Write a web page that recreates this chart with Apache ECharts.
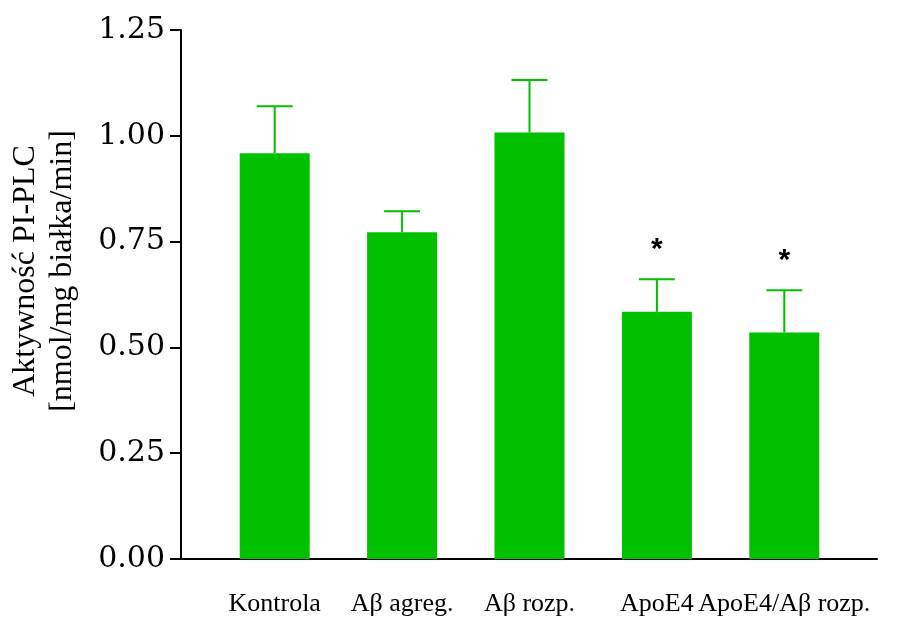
<!DOCTYPE html>
<html>
<head>
<meta charset="utf-8">
<script src="https://cdn.jsdelivr.net/npm/echarts@6/dist/echarts.min.js"></script>
<style>
  html, body { margin: 0; padding: 0; background: #fff; }
  #chart { width: 908px; height: 621px; }
</style>
</head>
<body>
<div id="chart"></div>
<script>
// Groups, mean PI-PLC activity and upper error (mean + SEM)
const categories = ['Kontrola', 'Aβ agreg.', 'Aβ rozp.', 'ApoE4', 'ApoE4/Aβ rozp.'];
const means = [0.959, 0.772, 1.008, 0.584, 0.535];
const upper = [1.070, 0.822, 1.132, 0.661, 0.635];
const significance = ['', '', '', '*', '*'];
const yTicks = [0, 0.25, 0.5, 0.75, 1.0, 1.25];

const GREEN = '#00c000';
const serif = '"Liberation Serif", "Times New Roman", serif';

const chart = echarts.init(document.getElementById('chart'), null, { renderer: 'canvas' });

const errorData = categories.map((c, i) => [i, means[i], upper[i], significance[i]]);

chart.setOption({
  animation: false,
  backgroundColor: '#ffffff',
  grid: [
    // bars and category labels
    { left: 211, right: 60, top: 30, bottom: 62 },
    // full-width frame carrying the y axis and the baseline
    { left: 181, right: 31, top: 30, bottom: 62 }
  ],
  xAxis: [
    {
      type: 'category', gridIndex: 0, data: categories,
      axisLine: { show: false }, axisTick: { show: false },
      axisLabel: { interval: 0, color: '#000', fontFamily: serif, fontSize: 26, margin: 32 }
    },
    {
      type: 'category', gridIndex: 1, data: [''],
      axisLine: { show: true, lineStyle: { color: '#000', width: 2 } },
      axisTick: { show: false }, axisLabel: { show: false }
    }
  ],
  yAxis: [
    {
      type: 'value', gridIndex: 0, min: 0, max: 1.25, interval: 0.25,
      show: false, splitLine: { show: false }
    },
    {
      type: 'value', gridIndex: 1, min: 0, max: 1.25, interval: 0.25,
      axisLine: { show: true, lineStyle: { color: '#000', width: 2 } },
      axisTick: { show: true, inside: false, length: 11, lineStyle: { color: '#000', width: 2 } },
      splitLine: { show: false },
      axisLabel: {
        color: '#000', fontFamily: '"DejaVu Serif", serif', fontSize: 30, margin: 16,
        formatter: v => v.toFixed(2)
      }
    }
  ],
  graphic: [
    {
      type: 'text',
      x: 44, y: 271, rotation: Math.PI / 2,
      style: {
        text: 'Aktywność PI-PLC\n[nmol/mg białka/min]',
        font: '32px ' + serif,
        fill: '#000',
        align: 'center',
        verticalAlign: 'middle',
        lineHeight: 37
      }
    }
  ],
  series: [
    {
      type: 'bar', xAxisIndex: 0, yAxisIndex: 0,
      data: means, barWidth: 70,
      itemStyle: { color: GREEN },
      z: 2
    },
    {
      type: 'custom', xAxisIndex: 0, yAxisIndex: 0,
      data: errorData,
      z: 3,
      renderItem: function (params, api) {
        const i = api.value(0);
        const base = api.coord([i, api.value(1)]);
        const top = api.coord([i, api.value(2)]);
        const half = 18;
        const children = [
          { type: 'line', shape: { x1: base[0], y1: base[1], x2: top[0], y2: top[1] },
            style: { stroke: GREEN, lineWidth: 2 } },
          { type: 'line', shape: { x1: top[0] - half, y1: top[1], x2: top[0] + half, y2: top[1] },
            style: { stroke: GREEN, lineWidth: 2 } }
        ];
        const mark = significance[params.dataIndex];
        if (mark) {
          children.push({
            type: 'text',
            style: {
              text: mark, x: top[0], y: top[1] - 15,
              font: 'bold 30px "Liberation Sans", Arial, sans-serif',
              fill: '#000', align: 'center', verticalAlign: 'bottom'
            }
          });
        }
        return { type: 'group', children: children };
      }
    }
  ]
});
</script>
</body>
</html>
